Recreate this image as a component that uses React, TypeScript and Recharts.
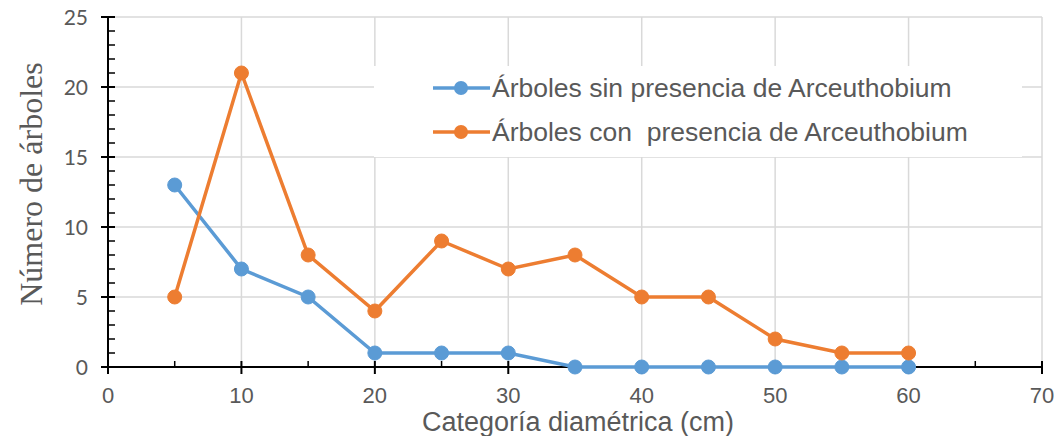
import React from 'react';
import { LineChart, Line, XAxis, YAxis, ReferenceLine, Legend } from 'recharts';

const categories = [5, 10, 15, 20, 25, 30, 35, 40, 45, 50, 55, 60];
const sinPresencia = [13, 7, 5, 1, 1, 1, 0, 0, 0, 0, 0, 0];
const conPresencia = [5, 21, 8, 4, 9, 7, 8, 5, 5, 2, 1, 1];

const xTicks = [0, 5, 10, 15, 20, 25, 30, 35, 40, 45, 50, 55, 60, 65, 70];
const xMajor = [10, 20, 30, 40, 50, 60, 70];
const yTicks = Array.from({ length: 26 }, (_, i) => i);
const yMajor = [5, 10, 15, 20, 25];

const SERIES_SIN = 'Árboles sin presencia de Arceuthobium';
const SERIES_CON = 'Árboles con  presencia de Arceuthobium';
const BLUE = '#5B9BD5';
const ORANGE = '#ED7D31';
const TEXT = '#595959';

const data = categories.map((c, i) => ({ x: c, sin: sinPresencia[i], con: conPresencia[i] }));
const legendItems = [
  { value: SERIES_SIN, color: BLUE },
  { value: SERIES_CON, color: ORANGE },
];

const W = 1058;
const H = 436;
const M = { top: 17, right: 16, bottom: 69, left: 108 };

const YTick = (props: any) => {
  const { x, y, payload } = props;
  const v = payload.value;
  const major = v % 5 === 0;
  return (
    <g>
      {major ? (
        <line x1={x - 7} x2={x + 7} y1={y} y2={y} stroke="#000" strokeWidth={2} />
      ) : (
        <line x1={x} x2={x + 7} y1={y} y2={y} stroke="#000" strokeWidth={1.5} />
      )}
      {major && (
        <text x={x - 20} y={y} dy="0.36em" textAnchor="end" fill={TEXT} fontSize={21} fontFamily="Lato, 'Noto Sans', sans-serif">
          {v}
        </text>
      )}
    </g>
  );
};

const XTick = (props: any) => {
  const { x, y, payload } = props;
  const v = payload.value;
  const major = v % 10 === 0;
  return (
    <g>
      {major ? (
        <line x1={x} x2={x} y1={y - 6} y2={y + 7} stroke="#000" strokeWidth={2} />
      ) : (
        <line x1={x} x2={x} y1={y - 6} y2={y} stroke="#000" strokeWidth={1.5} />
      )}
      {major && (
        <text x={x} y={y + 36} textAnchor="middle" fill={TEXT} fontSize={22} fontFamily="'Liberation Sans', Arial, sans-serif">
          {v}
        </text>
      )}
    </g>
  );
};

const LegendContent = () => (
  <div style={{ width: '100%', height: '100%', background: '#fff', position: 'relative' }}>
    {legendItems.map((p, i) => (
      <div key={i} style={{ position: 'absolute', left: 58, top: 22 + i * 44 - 16, height: 32, display: 'flex', alignItems: 'center' }}>
        <svg width={60} height={32} style={{ display: 'block' }}>
          <line x1={1} x2={58} y1={16} y2={16} stroke={p.color} strokeWidth={3.5} />
          <circle cx={29} cy={16} r={7} fill={p.color} />
        </svg>
        <span style={{ color: TEXT, fontSize: 26.5, fontFamily: "'Liberation Sans', Arial, sans-serif", whiteSpace: 'pre', lineHeight: '32px' }}>
          {p.value}
        </span>
      </div>
    ))}
  </div>
);

export default function App() {
  return (
    <div style={{ position: 'absolute', left: 0, top: 0, width: W, height: H, background: '#fff' }}>
      {/* Base layer: grid, axes, titles, legend */}
      <div style={{ position: 'absolute', left: 0, top: 0 }}>
        <LineChart width={W} height={H} data={data} margin={{ top: M.top, right: M.right, bottom: M.bottom - 30, left: M.left - 60 }}>
          {yMajor.map((v) => (
            <ReferenceLine key={'h' + v} y={v} stroke="#D9D9D9" strokeWidth={1.5} />
          ))}
          {xMajor.map((v) => (
            <ReferenceLine key={'v' + v} x={v} stroke="#D9D9D9" strokeWidth={1.5} />
          ))}
          <XAxis
            type="number"
            dataKey="x"
            domain={[0, 70]}
            ticks={xTicks}
            interval={0}
            height={30}
            tickSize={0}
            tickMargin={0}
            tickLine={false}
            axisLine={{ stroke: '#000', strokeWidth: 2 }}
            tick={<XTick />}
            label={{
              value: 'Categoría diamétrica (cm)',
              position: 'insideBottom',
              content: (p: any) => {
                const vb = p.viewBox || {};
                return (
                  <text x={vb.x + vb.width / 2 + 3} y={431} textAnchor="middle" fill={TEXT} fontSize={27} fontFamily="'Liberation Sans', Arial, sans-serif">
                    Categoría diamétrica (cm)
                  </text>
                );
              },
            }}
          />
          <YAxis
            type="number"
            domain={[0, 25]}
            ticks={yTicks}
            interval={0}
            width={60}
            tickSize={0}
            tickMargin={0}
            tickLine={false}
            axisLine={{ stroke: '#000', strokeWidth: 2 }}
            tick={<YTick />}
            label={{
              value: 'Número de árboles',
              position: 'insideLeft',
              content: (p: any) => {
                const vb = p.viewBox || {};
                const cy = vb.y + vb.height / 2 - 8;
                return (
                  <text x={30} y={cy} transform={`rotate(-90, 30, ${cy})`} dy="0.36em" textAnchor="middle" fill={TEXT} fontSize={32} fontFamily="'Liberation Serif', 'Times New Roman', serif">
                    Número de árboles
                  </text>
                );
              },
            }}
          />
          <Legend
            layout="horizontal"
            verticalAlign="middle"
            align="center"
            content={<LegendContent />}
            wrapperStyle={{ position: 'absolute', left: 374, top: 66, width: 648, height: 91 }}
          />
          {/* invisible series so the base layer's axes get their domain */}
          <Line dataKey="sin" stroke="none" dot={false} activeDot={false} legendType="none" isAnimationActive={false} />
          <Line dataKey="con" stroke="none" dot={false} activeDot={false} legendType="none" isAnimationActive={false} />
        </LineChart>
      </div>
      {/* Top layer: data series drawn above the axes */}
      <div style={{ position: 'absolute', left: 0, top: 0, pointerEvents: 'none' }}>
        <LineChart width={W} height={H} data={data} margin={M}>
          <XAxis type="number" dataKey="x" domain={[0, 70]} hide />
          <YAxis type="number" domain={[0, 25]} hide />
          <Line
            type="linear"
            dataKey="sin"
            name={SERIES_SIN}
            stroke={BLUE}
            strokeWidth={3.5}
            dot={{ r: 7, fill: BLUE, stroke: BLUE, strokeWidth: 1 }}
            activeDot={false}
            isAnimationActive={false}
          />
          <Line
            type="linear"
            dataKey="con"
            name={SERIES_CON}
            stroke={ORANGE}
            strokeWidth={3.5}
            dot={{ r: 7, fill: ORANGE, stroke: ORANGE, strokeWidth: 1 }}
            activeDot={false}
            isAnimationActive={false}
          />
        </LineChart>
      </div>
    </div>
  );
}
